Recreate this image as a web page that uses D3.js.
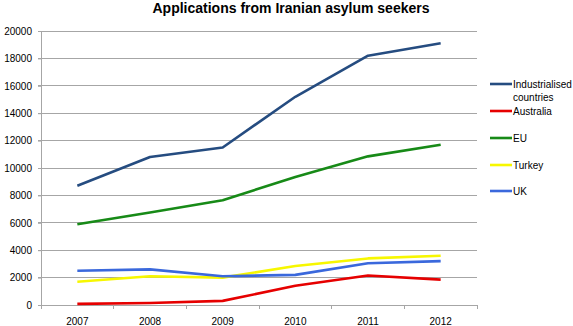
<!DOCTYPE html>
<html><head><meta charset="utf-8">
<script src="https://cdn.jsdelivr.net/npm/d3@7"></script>
<style>body{margin:0;background:#fff;}svg{display:block;font-family:"Liberation Sans",Arial,sans-serif;}</style>
</head><body><div id="chart"></div>
<script>
const years = ["2007","2008","2009","2010","2011","2012"];
const industrialised = [8700, 10800, 11500, 15200, 18200, 19100];
const australia = [80, 150, 300, 1400, 2150, 1850];
const eu = [5900, 6750, 7650, 9350, 10850, 11700];
const turkey = [1700, 2100, 2000, 2850, 3400, 3600];
const uk = [2500, 2600, 2100, 2200, 3050, 3200];
const yTicks = [0, 2000, 4000, 6000, 8000, 10000, 12000, 14000, 16000, 18000, 20000];
const seriesNames = ["Industrialised countries", "Australia", "EU", "Turkey", "UK"];
const seriesColors = ["#254c80", "#e60000", "#178a17", "#f7f700", "#3a68dc"];
const seriesValues = [industrialised, australia, eu, turkey, uk];

const W = 573, H = 326;
const svg = d3.select("#chart").append("svg").attr("width", W).attr("height", H);
const pL = 41, pR = 477, pT = 31, pB = 305;
const x = d3.scaleBand().domain(years).range([pL, pR]);
const y = d3.scaleLinear().domain([0, 20000]).range([pB, pT]);
const FONT = "Liberation Sans, Arial, sans-serif";

svg.append("text").attr("x", 291).attr("y", 13).attr("text-anchor", "middle")
  .attr("font-size", 14).attr("font-weight", "bold").attr("fill", "#000")
  .text("Applications from Iranian asylum seekers");

// grid lines
svg.append("g").selectAll("line").data(yTicks.filter(d => d > 0)).join("line")
  .attr("x1", pL - 3).attr("x2", pR).attr("y1", d => y(d)).attr("y2", d => y(d))
  .attr("stroke", "#a6a6a6").attr("stroke-width", 1).attr("shape-rendering", "crispEdges");

// y axis
const yAxis = svg.append("g").attr("transform", `translate(${pL},0)`)
  .call(d3.axisLeft(y).tickValues(yTicks).tickSize(3).tickFormat(d3.format("d")));
yAxis.select(".domain").attr("stroke", "#a6a6a6");
yAxis.selectAll(".tick line").attr("stroke", "#a6a6a6");
yAxis.selectAll("text").attr("font-size", 10).attr("fill", "#000").attr("font-family", FONT).attr("x", -9);

// x axis
const xAxis = svg.append("g").attr("transform", `translate(0,${pB})`)
  .call(d3.axisBottom(x).tickSize(0).tickSizeOuter(0));
xAxis.select(".domain").attr("stroke", "#a6a6a6");
xAxis.selectAll("text").attr("font-size", 10).attr("fill", "#000").attr("font-family", FONT).attr("dy", "0").attr("y", 20);
// band boundary ticks
svg.append("g").selectAll("line").data(years.concat(["end"])).join("line")
  .attr("x1", (d, i) => pL + i * x.step()).attr("x2", (d, i) => pL + i * x.step())
  .attr("y1", pB).attr("y2", pB + 4)
  .attr("stroke", "#a6a6a6").attr("shape-rendering", "crispEdges");

const line = d3.line().x((d, i) => x(years[i]) + x.bandwidth() / 2).y(d => y(d));
seriesValues.forEach((vals, k) => {
  svg.append("path").datum(vals).attr("d", line).attr("fill", "none")
    .attr("stroke", seriesColors[k]).attr("stroke-width", 2.6).attr("stroke-linejoin", "round");
});

// legend
const legY = [84, 111, 138, 165, 191];
const leg = svg.append("g");
seriesNames.forEach((n, k) => {
  leg.append("line").attr("x1", 490).attr("x2", 512).attr("y1", legY[k]).attr("y2", legY[k])
    .attr("stroke", seriesColors[k]).attr("stroke-width", 2.6);
  const t = leg.append("text").attr("x", 513).attr("y", legY[k] + 4).attr("font-size", 10).attr("fill", "#000").attr("font-family", FONT);
  if (k === 0) {
    t.append("tspan").attr("x", 513).text("Industrialised");
    t.append("tspan").attr("x", 513).attr("dy", 13).text("countries");
  } else t.text(n);
});
</script></body></html>
